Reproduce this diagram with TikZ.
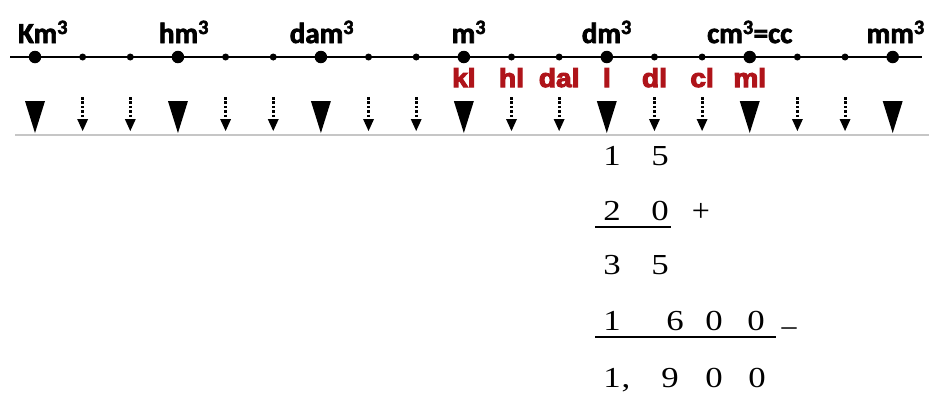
\documentclass[tikz,border=0pt]{standalone}
\usepackage{fontspec}
\usepackage{graphicx}
\setmainfont{Liberation Serif}
\newfontfamily\labfont{Carlito}[FakeBold=2.5]
\newfontfamily\redfont{Liberation Sans}[FakeBold=4]
\newfontfamily\numfont{Liberation Serif}
\newcommand\wide[2]{\scalebox{#1}[1]{#2}}
\definecolor{unitred}{RGB}{175,20,26}
\tikzset{
  bigdot/.style={circle,fill=black,inner sep=0pt,minimum size=12.5pt},
  smalldot/.style={circle,fill=black,inner sep=0pt,minimum size=7pt},
  unitlab/.style={anchor=base,inner sep=0pt,font=\labfont\bfseries\fontsize{29}{32}\selectfont},
  redlab/.style={anchor=base,inner sep=0pt,text=unitred,font=\redfont\bfseries\fontsize{26}{28}\selectfont},
  digit/.style={anchor=base,inner sep=0pt,font=\numfont\fontsize{29}{31}\selectfont},
  rule/.style={line width=2pt},
  dotstem/.style={line width=3pt,dash pattern=on 2.6pt off 1.8pt},
}
\begin{document}
\begin{tikzpicture}[x=1pt,y=-1pt]
\path[use as bounding box] (0,0) rectangle (929,392);
% scan edge
\draw[gray!45,line width=1.5pt] (15,135) -- (929,135);
% axis line
\coordinate (L) at (10,57);
\coordinate (R) at (922,57);
\draw[line width=1.8pt] (L) -- (R);
% dots and arrows
\foreach \i in {0,...,18}{
  \pgfmathsetmacro\xx{35+47.65*\i}
  \pgfmathtruncatemacro\mm{mod(\i,3)}
  \ifnum\mm=0
    \node[bigdot] (d\i) at (\xx,57) {};
    \fill ([xshift=-10pt,yshift=-44pt]d\i.center) -- ([xshift=10pt,yshift=-44pt]d\i.center) -- ([yshift=-76pt]d\i.center) -- cycle;
  \else
    \node[smalldot] (d\i) at (\xx,57) {};
    \draw[dotstem] ([yshift=-40pt]d\i.center) -- ([yshift=-63pt]d\i.center);
    \fill ([xshift=-5.5pt,yshift=-62pt]d\i.center) -- ([xshift=5.5pt,yshift=-62pt]d\i.center) -- ([yshift=-74pt]d\i.center) -- cycle;
  \fi
}
% cubic unit labels
\node[unitlab] (lKm) at ([xshift=8pt,yshift=14pt]d0.center) {Km\textsuperscript{3}};
\node[unitlab] (lhm) at ([xshift=6pt,yshift=14pt]d3.center) {hm\textsuperscript{3}};
\node[unitlab] (ldam) at ([xshift=1pt,yshift=14pt]d6.center) {dam\textsuperscript{3}};
\node[unitlab] (lm) at ([xshift=5pt,yshift=14pt]d9.center) {m\textsuperscript{3}};
\node[unitlab] (ldm) at ([xshift=0pt,yshift=14pt]d12.center) {dm\textsuperscript{3}};
\node[unitlab] (lcm) at ([xshift=0pt,yshift=14pt]d15.center) {cm\textsuperscript{3}=cc};
\node[unitlab] (lmm) at ([xshift=3pt,yshift=14pt]d18.center) {mm\textsuperscript{3}};
% litre labels
\node[redlab] (rkl) at ([yshift=-30pt]d9.center) {\wide{1.08}{kl}};
\node[redlab] (rhl) at ([yshift=-30pt]d10.center) {\wide{1.08}{hl}};
\node[redlab] (rdal) at ([yshift=-30pt]d11.center) {\wide{1.08}{dal}};
\node[redlab] (rl) at ([yshift=-30pt]d12.center) {\wide{1.08}{l}};
\node[redlab] (rdl) at ([yshift=-30pt]d13.center) {\wide{1.08}{dl}};
\node[redlab] (rcl) at ([yshift=-30pt]d14.center) {\wide{1.08}{cl}};
\node[redlab] (rml) at ([yshift=-30pt]d15.center) {\wide{1.08}{ml}};
% arithmetic
\node[digit] (a1) at (612,165) {\wide{1.2}{1}};
\node[digit] (a2) at (660,165) {\wide{1.2}{5}};
\node[digit] (b1) at (612,220) {\wide{1.2}{2}};
\node[digit] (b2) at (660,220) {\wide{1.2}{0}};
\node[inner sep=0pt,font=\numfont\fontsize{32}{34}\selectfont] (plus) at (701,212) {+};
\coordinate (r1a) at (595,227);
\coordinate (r1b) at (671,227);
\draw[rule] (r1a) -- (r1b);
\node[digit] (c1) at (612,274) {\wide{1.2}{3}};
\node[digit] (c2) at (660,274) {\wide{1.2}{5}};
\node[digit] (e1) at (612,330) {\wide{1.2}{1}};
\node[digit] (e2) at (675,330) {\wide{1.2}{6}};
\node[digit] (e3) at (714,330) {\wide{1.2}{0}};
\node[digit] (e4) at (756,330) {\wide{1.2}{0}};
\coordinate (r2a) at (595,337);
\coordinate (r2b) at (776,337);
\draw[rule] (r2a) -- (r2b);
\node[inner sep=0pt,font=\numfont\fontsize{30}{32}\selectfont] (minus) at (789,332) {–};
\node[digit] (f1) at (612,387) {\wide{1.2}{1}};
\node[digit] (fc) at (626,387) {\wide{1.2}{,}};
\node[digit] (f2) at (670,387) {\wide{1.2}{9}};
\node[digit] (f3) at (714,387) {\wide{1.2}{0}};
\node[digit] (f4) at (757,387) {\wide{1.2}{0}};
\end{tikzpicture}
\end{document}
